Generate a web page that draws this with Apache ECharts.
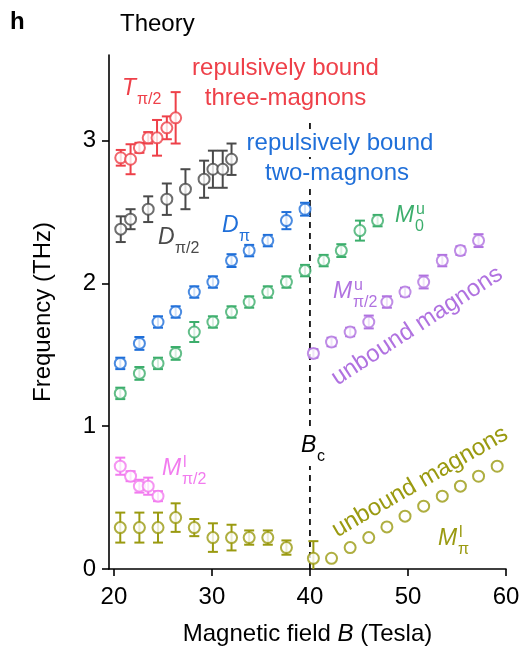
<!DOCTYPE html>
<html><head><meta charset="utf-8">
<script src="https://cdn.jsdelivr.net/npm/echarts@6/dist/echarts.min.js"></script>
<style>html,body{margin:0;padding:0;background:#fff}#c{width:524px;height:654px}</style>
</head><body><div id="c"></div>
<script>
// ---- data ----
const xTicks = [20, 30, 40, 50, 60];
const yTicks = [0, 1, 2, 3];
const Bc = 40;
const BcTop = 3.14;

const tPi2B = [20.7, 21.7, 22.6, 23.5, 24.4, 25.4, 26.3];
const tPi2F = [2.88, 2.87, 2.95, 3.02, 3.02, 3.09, 3.16];
const tPi2E = [0.055, 0.105, 0.035, 0.04, 0.125, 0.08, 0.18];

const dPi2B = [20.7, 21.7, 23.5, 25.4, 27.3, 29.2, 30.1, 31.1, 32.0];
const dPi2F = [2.38, 2.45, 2.52, 2.59, 2.66, 2.73, 2.80, 2.80, 2.87];
const dPi2E = [0.09, 0.07, 0.09, 0.11, 0.14, 0.13, 0.13, 0.13, 0.11];

const dPiB = [20.65, 22.6, 24.5, 26.3, 28.2, 30.1, 32.0, 33.8, 35.7, 37.6, 39.5];
const dPiF = [1.44, 1.58, 1.73, 1.80, 1.94, 2.01, 2.16, 2.23, 2.30, 2.44, 2.52];
const dPiE = [0.04, 0.045, 0.04, 0.04, 0.04, 0.04, 0.045, 0.04, 0.04, 0.06, 0.045];

const m0uB = [20.65, 22.6, 24.5, 26.3, 28.2, 30.1, 32.0, 33.8, 35.7, 37.6, 39.5, 41.4, 43.2, 45.1, 46.9];
const m0uF = [1.23, 1.37, 1.44, 1.51, 1.66, 1.73, 1.80, 1.87, 1.94, 2.01, 2.09, 2.16, 2.23, 2.37, 2.44];
const m0uE = [0.04, 0.045, 0.04, 0.045, 0.07, 0.04, 0.04, 0.04, 0.04, 0.04, 0.04, 0.04, 0.045, 0.07, 0.04];

const mPi2uB = [40.35, 42.2, 44.1, 46.0, 47.85, 49.7, 51.6, 53.5, 55.35, 57.2];
const mPi2uF = [1.51, 1.59, 1.66, 1.73, 1.87, 1.94, 2.01, 2.16, 2.23, 2.30];
const mPi2uE = [0.03, 0.03, 0.03, 0.045, 0.04, 0.03, 0.045, 0.04, 0.03, 0.045];

const mPi2lB = [20.65, 21.7, 22.6, 23.5, 24.5];
const mPi2lF = [0.72, 0.65, 0.58, 0.58, 0.51];
const mPi2lE = [0.06, 0.035, 0.045, 0.06, 0.035];

const mPilB = [20.65, 22.6, 24.5, 26.3, 28.2, 30.1, 32.0, 33.8, 35.7, 37.6, 40.35, 42.2, 44.1, 46.0, 47.85, 49.7, 51.6, 53.5, 55.35, 57.2, 59.1];
const mPilF = [0.29, 0.29, 0.29, 0.36, 0.29, 0.22, 0.22, 0.22, 0.22, 0.15, 0.075, 0.075, 0.15, 0.22, 0.295, 0.37, 0.44, 0.51, 0.58, 0.65, 0.72];
const mPilE = [0.105, 0.105, 0.105, 0.1, 0.06, 0.1, 0.09, 0.05, 0.05, 0.05, 0.12, 0, 0, 0, 0, 0, 0, 0, 0, 0, 0];

// ---- styling ----
const C = {
  red: '#ee4049', grey: '#4a4a4a', blue: '#1f6fd9', green: '#3cae6c',
  purple: '#b072e0', pink: '#f27bef', olive: '#9a9a10'
};
const FONT = '"Liberation Sans", Arial, Helvetica, sans-serif';

const groups = [
  [tPi2B, tPi2F, tPi2E, C.red],
  [dPi2B, dPi2F, dPi2E, C.grey],
  [dPiB, dPiF, dPiE, C.blue],
  [m0uB, m0uF, m0uE, C.green],
  [mPi2uB, mPi2uF, mPi2uE, C.purple],
  [mPi2lB, mPi2lF, mPi2lE, C.pink],
  [mPilB, mPilF, mPilE, C.olive]
];

const series = [];
series.push({
  type: 'line', data: [[Bc, 0], [Bc, BcTop]], symbol: 'none', silent: true, z: 1,
  lineStyle: { color: '#000', width: 1.7, type: [6, 5] }
});
groups.forEach(([b, f, e, col]) => {
  const data = b.map((v, i) => [v, f[i], e[i]]);
  series.push({
    type: 'custom', z: 2, silent: true, clip: true,
    data: data,
    encode: { x: 0, y: 1 },
    renderItem: function (params, api) {
      const x = api.value(0), y = api.value(1), er = api.value(2);
      if (!er) return null;
      const lo = api.coord([x, Math.max(0, y - er)]), hi = api.coord([x, y + er]);
      const w = 5;
      const st = { stroke: col, lineWidth: 2, fill: null };
      const ch = [
        { type: 'line', shape: { x1: lo[0], y1: lo[1], x2: hi[0], y2: hi[1] }, style: st },
        { type: 'line', shape: { x1: hi[0] - w, y1: hi[1], x2: hi[0] + w, y2: hi[1] }, style: st }
      ];
      if (y - er > 0) ch.push({ type: 'line', shape: { x1: lo[0] - w, y1: lo[1], x2: lo[0] + w, y2: lo[1] }, style: st });
      return { type: 'group', children: ch };
    }
  });
  series.push({
    type: 'scatter', z: 3, data: data.map(d => [d[0], d[1]]),
    symbol: 'emptyCircle', symbolSize: 11,
    itemStyle: { color: col, borderColor: col, borderWidth: 2.2 }
  });
});

// ---- text helpers ----
function txt(x, y, s, col, size, extra) {
  return Object.assign({
    type: 'text', x: x, y: y, z: 10,
    style: Object.assign({ text: s, fill: col, font: 'normal ' + size + 'px ' + FONT,
      textAlign: 'center', textVerticalAlign: 'middle' }, (extra && extra.style) || {})
  }, extra && extra.el || {});
}
function sym(x, base, main, sub, sup, col, mainW) {
  const ch = [];
  ch.push({ type: 'text', x: x, y: base, z: 10, style: { text: main, fill: col,
    font: 'italic 23px ' + FONT, textAlign: 'left', textVerticalAlign: 'bottom' } });
  if (sub) ch.push({ type: 'text', x: x + mainW, y: base + 8, z: 10, style: { text: sub, fill: col,
    font: '16px ' + FONT, textAlign: 'left', textVerticalAlign: 'bottom' } });
  if (sup) ch.push({ type: 'text', x: x + mainW + 1, y: base - 9, z: 10, style: { text: sup, fill: col,
    font: '16px ' + FONT, textAlign: 'left', textVerticalAlign: 'bottom' } });
  return { type: 'group', children: ch };
}

const graphics = [
  { type: 'text', x: 10, y: 22, style: { text: 'h', fill: '#000', font: 'bold 24px ' + FONT, textAlign: 'left', textVerticalAlign: 'middle' } },
  { type: 'text', x: 120, y: 24, style: { text: 'Theory', fill: '#000', font: '24px ' + FONT, textAlign: 'left', textVerticalAlign: 'middle' } },
  txt(285.5, 68, 'repulsively bound', C.red, 24),
  txt(285.5, 98, 'three-magnons', C.red, 24),
  txt(340, 143, 'repulsively bound', C.blue, 24, { style: { backgroundColor: '#fff', padding: [2, 2] } }),
  txt(337, 173, 'two-magnons', C.blue, 24, { style: { backgroundColor: '#fff', padding: [2, 2] } }),
  txt(417, 326, 'unbound magnons', C.purple, 24, { el: { rotation: 33 * Math.PI / 180 } }),
  txt(420, 482, 'unbound magnons', C.olive, 24, { el: { rotation: 30 * Math.PI / 180 } }),
  sym(122, 100, 'T', 'π/2', null, C.red, 15),
  sym(158, 249, 'D', 'π/2', null, C.grey, 17),
  sym(222, 237, 'D', 'π', null, C.blue, 17),
  sym(395, 227, 'M', '0', 'u', C.green, 20),
  sym(333, 303, 'M', 'π/2', 'u', C.purple, 20),
  sym(162, 480, 'M', 'π/2', 'l', C.pink, 20),
  sym(438, 550, 'M', 'π', 'l', C.olive, 20),
  { type: 'rect', x: 298, y: 426, z: 9, shape: { width: 28, height: 40 }, style: { fill: '#fff' } },
  sym(301, 457, 'B', 'c', null, '#000', 16)
];

const chart = echarts.init(document.getElementById('c'), null, { renderer: 'canvas' });
chart.setOption({
  animation: false,
  backgroundColor: '#fff',
  grid: { left: 109, right: 18, top: 55, bottom: 85, containLabel: false },
  xAxis: {
    type: 'value', min: 19.5, max: 60,
    name: 'Magnetic field {i|B} (Tesla)', nameLocation: 'middle', nameGap: 53,
    nameTextStyle: { fontSize: 24, color: '#000', fontFamily: FONT,
      rich: { i: { fontSize: 24, fontStyle: 'italic', color: '#000', fontFamily: FONT } } },
    axisLine: { show: true, lineStyle: { color: '#000', width: 1.6 } },
    axisTick: { show: true, customValues: xTicks, length: 7, inside: false, lineStyle: { color: '#000', width: 1.6 } },
    axisLabel: { customValues: xTicks, fontSize: 24, color: '#000', fontFamily: FONT, margin: 16 },
    splitLine: { show: false }
  },
  yAxis: {
    type: 'value', min: 0, max: 3.6,
    name: 'Frequency (THz)', nameLocation: 'middle', nameGap: 54, nameRotate: 90,
    nameTextStyle: { fontSize: 24, color: '#000', fontFamily: FONT },
    axisLine: { show: true, lineStyle: { color: '#000', width: 1.6 } },
    axisTick: { show: true, customValues: yTicks, length: 7, inside: false, lineStyle: { color: '#000', width: 1.6 } },
    axisLabel: { customValues: yTicks, fontSize: 24, color: '#000', fontFamily: FONT, margin: 13 },
    splitLine: { show: false }
  },
  series: series,
  graphic: graphics
});
</script>
</body></html>
